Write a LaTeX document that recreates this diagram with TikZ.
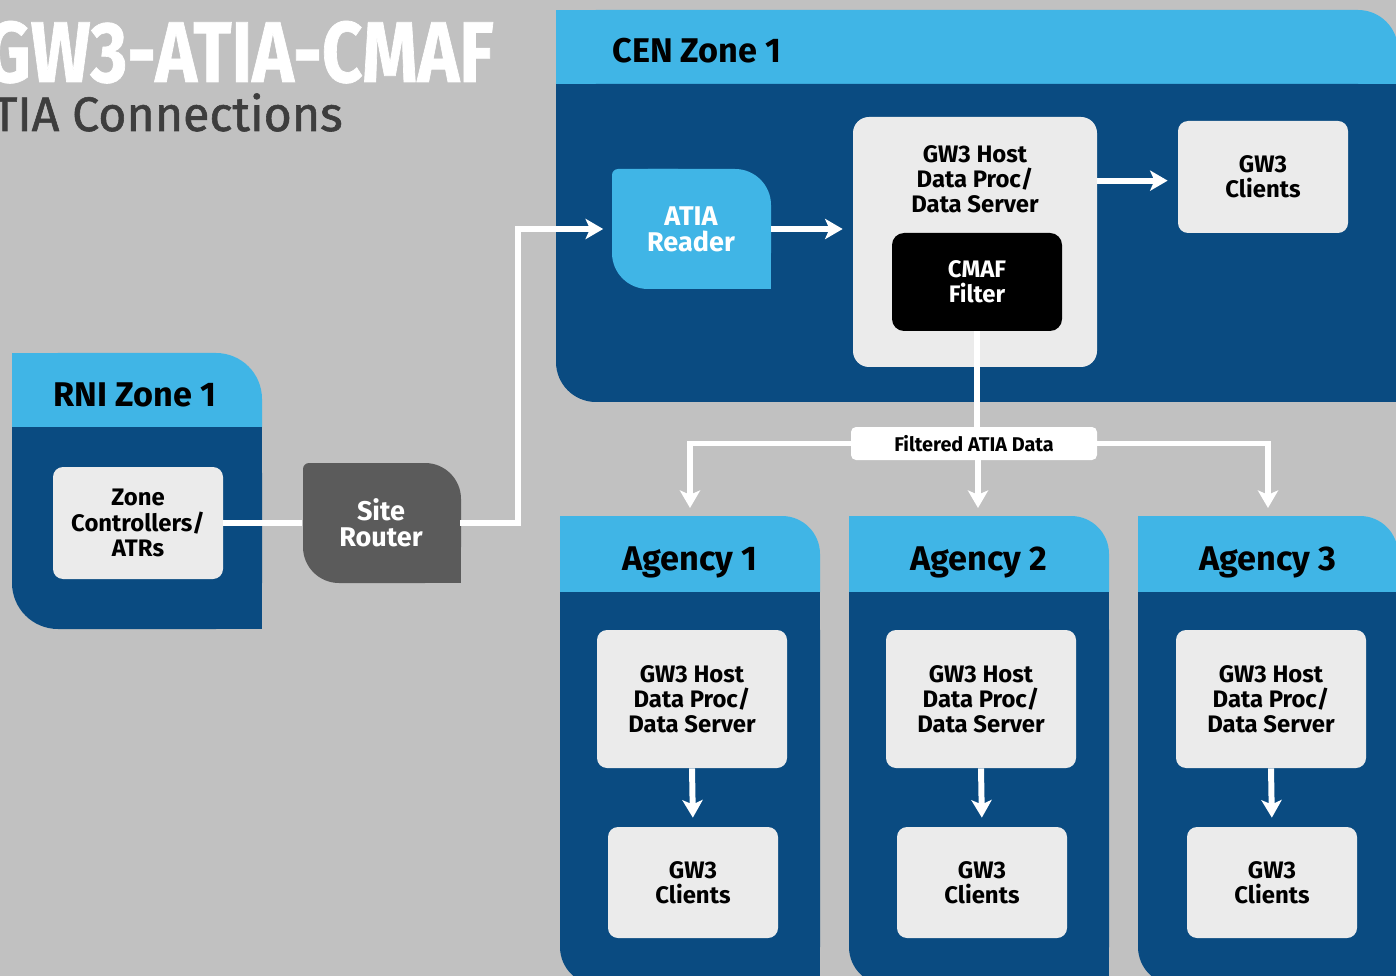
\documentclass[tikz,border=0pt]{standalone}
\usepackage{fontspec}
\setmainfont{Fira Sans}
\newfontfamily\titlefont[FakeStretch=0.82,FakeBold=0.8]{Fira Sans}
\newfontfamily\subfont[FakeBold=1.2]{Fira Sans}
\usetikzlibrary{arrows.meta,calc}
\newdimen\pxu \pxu=0.02cm
\definecolor{bgc}{HTML}{C1C1C1}
\definecolor{lightb}{HTML}{40B5E6}
\definecolor{darkb}{HTML}{0A4B81}
\definecolor{boxg}{HTML}{EBEBEB}
\definecolor{routerg}{HTML}{5B5B5B}
\definecolor{subg}{HTML}{3D3D3D}
\newcommand\boxfont{\fontsize{13.6pt}{14.3pt}\selectfont\bfseries}
\newcommand\bigboxfont{\fontsize{15.4pt}{14.8pt}\selectfont\bfseries}
\newcommand\hdfont{\bfseries\fontsize{19.5pt}{21pt}\selectfont}
% zone container: x0,y0,x1,y1,header bottom,radius
\newcommand\zonebox[6]{%
  \fill[lightb,rounded corners=#6\pxu] (#1,#2) rectangle (#3,{#5+#6});
  \fill[lightb] (#1,#2) rectangle ({#1+#6},{#2+#6});
  \fill[darkb,rounded corners=#6\pxu] (#1,#5) rectangle (#3,#4);
  \fill[darkb] (#1,#5) rectangle (#3,{#4-#6});
  \fill[darkb] ({#1+#6},#5) rectangle (#3,#4);
}
% leaf shape: x0,y0,x1,y1,radius,colour (top-right and bottom-left rounded)
\newcommand\leafbox[6]{%
  \fill[#6,rounded corners=#5\pxu] (#1,#2) rectangle (#3,#4);
  \fill[#6,rounded corners=6\pxu] (#1,#2) rectangle ({#1+2*#5},{#2+2*#5});
  \fill[#6] (#3,#4) rectangle ({#3-#5},{#4-#5});
}
\begin{document}
\begin{tikzpicture}[x=0.02cm,y=-0.02cm,
  box/.style={fill=boxg,rounded corners=10\pxu,align=center,font=\boxfont,text=black,inner sep=0pt},
  hostbox/.style={box,minimum width=190\pxu,minimum height=138\pxu},
  clientbox/.style={box,minimum width=170\pxu,minimum height=111\pxu},
  lbl/.style={align=center,font=\bigboxfont,inner sep=0pt},
  wline/.style={draw=white,line width=3.4pt},
  arr/.style={wline,-{Stealth[length=10pt,width=11.5pt,inset=2.5pt]}},
  hdr/.style={font=\hdfont,text=black,inner sep=0pt}]
\useasboundingbox (0,0) rectangle (1396,976);
\fill[bgc] (0,0) rectangle (1396,976);

% titles
\node[anchor=base east,text=white,inner sep=0pt,font=\titlefont\bfseries\fontsize{49pt}{50pt}\selectfont] (title) at (494,82) {GW3-ATIA-CMAF};
\node[anchor=base east,text=subg,inner sep=0pt,font=\subfont\fontsize{27.5pt}{29pt}\selectfont] (subtitle) at (343,131) {ATIA Connections};

% containers
\zonebox{556}{10}{1398}{402}{84}{40}
\zonebox{12}{353}{262}{629}{427}{46}
\zonebox{560}{516}{820}{985}{592}{38}
\zonebox{849}{516}{1109}{985}{592}{38}
\zonebox{1138}{516}{1398}{985}{592}{38}
\coordinate (ag1) at (690,516);
\coordinate (ag2) at (978,516);
\coordinate (ag3) at (1268,516);

\node[hdr,anchor=base west] (cen) at (612,63) {CEN Zone 1};
\node[hdr,anchor=base] (rni) at (135,406) {RNI Zone 1};
\node[hdr,anchor=base] (agt1) at (690,570) {Agency 1};
\node[hdr,anchor=base] (agt2) at (979,570) {Agency 2};
\node[hdr,anchor=base] (agt3) at (1268,570) {Agency 3};

% RNI
\node[box,minimum width=170\pxu,minimum height=112\pxu] (zc) at (138,523) {Zone\\Controllers/\\ATRs};
\leafbox{303}{463}{461}{583}{36}{routerg}
\node[lbl,text=white,minimum width=158\pxu,minimum height=120\pxu] (router) at (381,523) {Site\\Router};

% CEN
\leafbox{612}{169}{771}{289}{36}{lightb}
\node[lbl,text=white,minimum width=159\pxu,minimum height=120\pxu] (reader) at (691,229) {ATIA\\Reader};
\node[box,rounded corners=16\pxu,minimum width=244\pxu,minimum height=250\pxu] (cenhost) at (975,242) {};
\node[box,fill=none] (cenhosttxt) at (975,179) {GW3 Host\\Data Proc/\\Data Server};
\node[box,fill=black,text=white,rounded corners=12\pxu,minimum width=170\pxu,minimum height=98\pxu] (cmaf) at (977,282) {CMAF\\Filter};
\node[box,minimum width=170\pxu,minimum height=112\pxu] (cenclients) at (1263,177) {GW3\\Clients};

\node[fill=white,rounded corners=5\pxu,minimum width=246\pxu,minimum height=33\pxu,inner sep=0pt,font=\fontsize{11.3pt}{12pt}\selectfont\bfseries] (filt) at (974,443.5) {Filtered ATIA Data};

% agencies
\node[hostbox] (h1) at (692,699) {GW3 Host\\Data Proc/\\Data Server};
\node[hostbox] (h2) at (981,699) {GW3 Host\\Data Proc/\\Data Server};
\node[hostbox] (h3) at (1271,699) {GW3 Host\\Data Proc/\\Data Server};
\node[clientbox] (c1) at (693,882.5) {GW3\\Clients};
\node[clientbox] (c2) at (982,882.5) {GW3\\Clients};
\node[clientbox] (c3) at (1272,882.5) {GW3\\Clients};

% connectors
\draw[wline] (zc.east) -- (router.west);
\draw[arr,shorten >=8\pxu] (router.east) -- ++(58,0) |- (reader.west);
\draw[arr,shorten >=10\pxu] (reader.east) -- (reader.east -| cenhost.west);
\draw[arr,shorten >=10\pxu] ($(cenhost.north east)+(0,64)$) -- ($(cenclients.north west)+(0,60)$);
\draw[wline] (cmaf.south) -- (cmaf.south |- filt.north);
\draw[arr,shorten >=8\pxu] (filt.west) -| (ag1);
\draw[arr,shorten >=8\pxu] (filt.south -| ag2) -- (ag2);
\draw[arr,shorten >=8\pxu] (filt.east) -| (ag3);
\draw[arr,shorten >=9\pxu] (h1.south) -- (c1.north);
\draw[arr,shorten >=9\pxu] (h2.south) -- (c2.north);
\draw[arr,shorten >=9\pxu] (h3.south) -- (c3.north);
\end{tikzpicture}
\end{document}
